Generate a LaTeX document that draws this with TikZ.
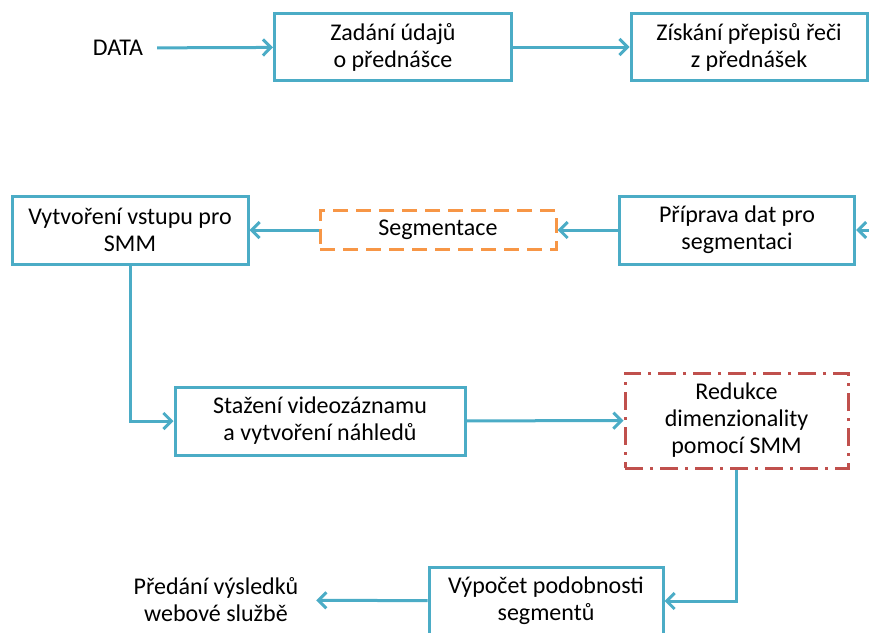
\documentclass[tikz,border=0pt]{standalone}
\usepackage{fontspec}
\setmainfont{Carlito}
\usepackage{tikz}
\usetikzlibrary{arrows.meta}

\definecolor{linka}{HTML}{4BACC6}
\definecolor{oranzova}{HTML}{F79646}
\definecolor{cervena}{HTML}{C0504D}

\tikzset{
  krok/.style={draw=linka,line width=3pt,fill=white,align=center,inner sep=0pt,
    minimum width=236pt,minimum height=67pt},
  volny/.style={align=center,inner sep=0pt},
  sipka/.style={draw=linka,line width=3pt,-{Straight Barb[length=8pt,width=16pt,line width=3pt]}},
  cara/.style={draw=linka,line width=3pt}
}

\begin{document}
\begin{tikzpicture}[x=1pt,y=-1pt,font=\fontsize{24}{27}\selectfont]
%\draw[help lines] (0,0) grid (869,632);
\useasboundingbox (0,0) rectangle (869,632);
\clip (0,0) rectangle (869,632);

\node[volny,minimum width=78pt] (data) at (118,48) {DATA};
\node[krok,minimum width=237pt] (zadani) at (393,47) {Zadání údajů\\o přednášce};
\node[krok] (ziskani) at (749,47) {Získání přepisů řeči\\z přednášek};
\coordinate (vpravo1) at (885,47);
\coordinate (vpravo2) at (885,230);

\node[krok,minimum width=235pt,minimum height=68pt] (priprava) at (737,230) {Příprava dat pro\\segmentaci};
\node[krok,draw=oranzova,minimum height=39pt,dash pattern=on 15pt off 8pt] (segmentace) at (438,230) {Segmentace};
\node[krok,minimum height=68pt] (vstup) at (130,230) {Vytvoření vstupu pro\\SMM};

\node[krok,minimum width=290pt,minimum height=68pt] (stazeni) at (320,421) {Stažení videozáznamu\\a vytvoření náhledů};
\node[krok,draw=cervena,minimum width=223pt,minimum height=95pt,
  dash pattern=on 18pt off 7pt on 3pt off 7pt] (redukce) at (736.5,420.5) {Redukce\\dimenzionality\\pomocí SMM};

\node[krok,minimum width=234pt,minimum height=68pt] (vypocet) at (546,601) {Výpočet podobnosti\\segmentů};
\node[volny,minimum width=200pt] (predani) at (216,600) {Předání výsledků\\webové službě};

\draw[sipka] (data) -- (zadani);
\draw[sipka] (zadani) -- (ziskani);
\draw[cara] (ziskani.east) -- (vpravo1);
\draw[sipka] (vpravo2) -- (priprava.east);
\draw[sipka] (priprava) -- (segmentace);
\draw[sipka] (segmentace) -- (vstup);
\draw[sipka] (vstup.south) |- (stazeni.west);
\draw[sipka] (stazeni) -- (redukce);
\draw[sipka] (redukce.south) |- (vypocet.east);
\draw[sipka] (vypocet) -- (predani);

\end{tikzpicture}
\end{document}
